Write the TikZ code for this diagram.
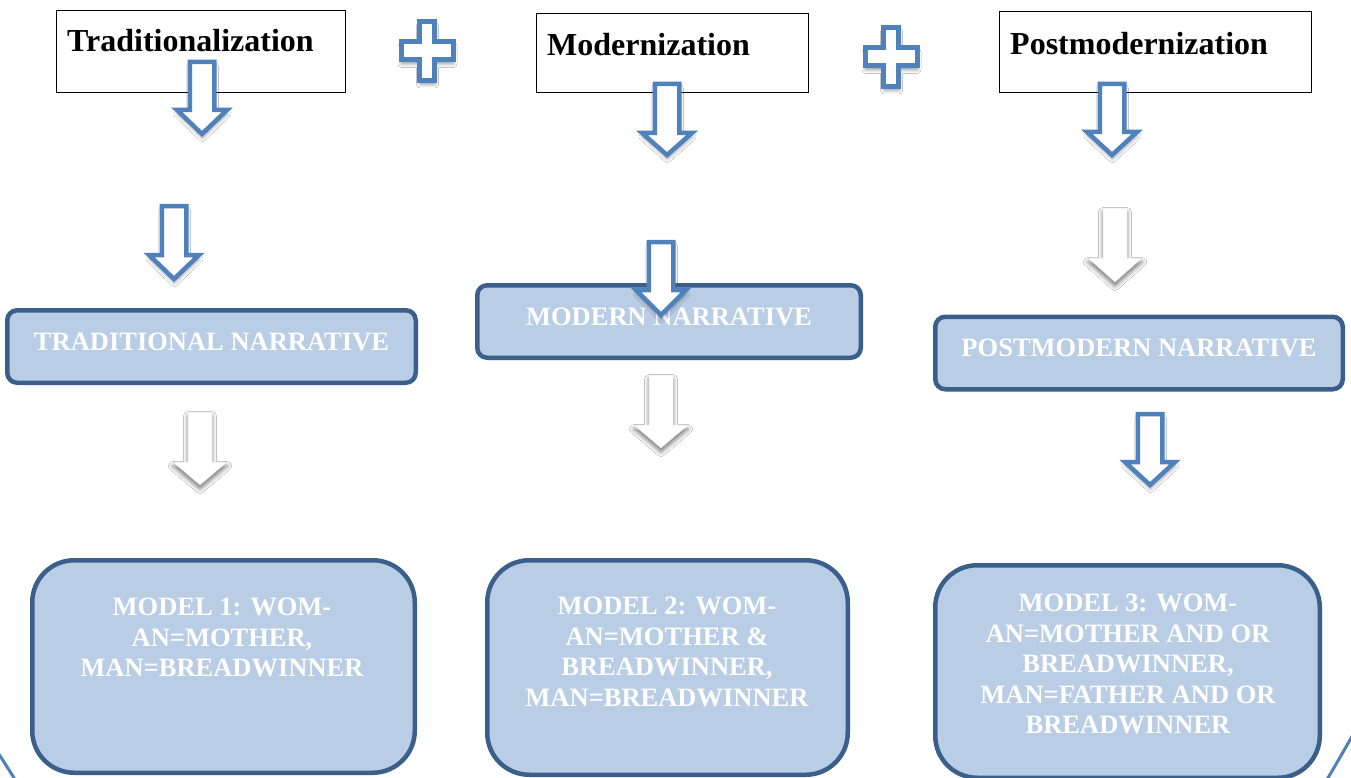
\documentclass[tikz,border=0pt]{standalone}
\usepackage{fontspec}
\setmainfont{Liberation Serif}
\usetikzlibrary{shadows.blur}
\definecolor{accblue}{HTML}{4F81BD}
\definecolor{boxborder}{HTML}{3A5F8B}
\definecolor{boxfill}{HTML}{B9CDE5}

% block arrow: #1 style, #2 centre x, #3 top y, #4 head y, #5 tip y, #6 shaft half, #7 head half
\newcommand{\BlkArrow}[7]{%
  \path[#1] (#2-#6,#3) -- (#2+#6,#3) -- (#2+#6,#4) -- (#2+#7,#4) -- (#2,#5)
    -- (#2-#7,#4) -- (#2-#6,#4) -- cycle;}
% plus sign: #1 centre x, #2 centre y
\newcommand{\PlusSign}[2]{%
  \path[plussign] (#1-7.5,#2-29.5) -- (#1+7.5,#2-29.5) -- (#1+7.5,#2-9) -- (#1+26,#2-9)
    -- (#1+26,#2+9) -- (#1+7.5,#2+9) -- (#1+7.5,#2+29.5) -- (#1-7.5,#2+29.5)
    -- (#1-7.5,#2+9) -- (#1-26,#2+9) -- (#1-26,#2-9) -- (#1-7.5,#2-9) -- cycle;}

\tikzset{
  topbox/.style={draw=black, line width=1pt, fill=white, inner sep=0pt},
  toptext/.style={font=\fontsize{32}{36}\selectfont\bfseries, inner sep=0pt, anchor=base west},
  narrbox/.style={draw=boxborder, line width=4.5pt, fill=boxfill, rounded corners=10pt,
    inner sep=0pt, minimum height=72.5pt, text height=17pt, text depth=10pt,
    font=\fontsize{26.5}{30.5}\selectfont\bfseries, text=white},
  modelbox/.style={draw=boxborder, line width=4.5pt, fill=boxfill, rounded corners=42pt, inner sep=0pt},
  modeltext/.style={font=\fontsize{26.5}{30.5}\selectfont\bfseries, text=white, align=center,
    inner sep=0pt, anchor=north},
  bluearrow/.style={draw=accblue, line width=4.5pt, fill=white, line join=miter,
    blur shadow={shadow xshift=0.5pt, shadow yshift=-4pt, shadow blur radius=3.5pt, shadow opacity=35}},
  grayarrow/.style={fill=white, draw=black!10, line width=0.5pt,
    blur shadow={shadow xshift=0pt, shadow yshift=-4pt, shadow blur radius=4.5pt, shadow opacity=55}},
  plussign/.style={draw=accblue, line width=5pt, fill=white, line join=miter,
    blur shadow={shadow xshift=0.5pt, shadow yshift=-4pt, shadow blur radius=3.5pt, shadow opacity=40}},
  framearc/.style={draw=accblue, line width=3pt},
}

\begin{document}
\begin{tikzpicture}[x=1pt, y=-1pt]
\useasboundingbox (0,0) rectangle (1351,778);
\clip (0,0) rectangle (1351,778);
\fill[white] (0,0) rectangle (1351,778);

% background frame fragments
\draw[framearc] (-4,750) .. controls (3,760) and (9,770) .. (16,781);
\draw[framearc] (1326,781) .. controls (1334,768) and (1343,752) .. (1354,733);

% top boxes
\node[topbox, minimum width=289pt, minimum height=82pt] (tradbox) at (200.5,52) {};
\node[topbox, minimum width=272pt, minimum height=79pt] (modbox) at (672,53.5) {};
\node[topbox, minimum width=312pt, minimum height=81pt] (postbox) at (1155,52.5) {};
\node[toptext] (tradtxt) at (67,52) {Traditionalization};
\node[toptext] (modtxt) at (547,56) {Modernization};
\node[toptext] (posttxt) at (1010,55) {Postmodernization};

% plus signs
\PlusSign{427}{51}
\PlusSign{891}{57}

% narrative boxes
\node[narrbox, minimum width=408.5pt] (tradn) at (211.5,346.5) {TRADITIONAL NARRATIVE};
\node[narrbox, minimum width=383.5pt] (modn) at (669,321.5) {MODERN NARRATIVE};
\node[narrbox, minimum width=407.5pt] (postn) at (1139,353) {POSTMODERN NARRATIVE};

% model boxes
\node[modelbox, minimum width=382.5pt, minimum height=212.5pt] (m1) at (223.5,666.5) {};
\node[modelbox, minimum width=360.5pt, minimum height=214.5pt] (m2) at (667.5,667.5) {};
\node[modelbox, minimum width=384.5pt, minimum height=212.5pt] (m3) at (1127.5,671.5) {};
\node[modeltext] (m1t) at (222,598) {MODEL 1: WOM-\\AN=MOTHER,\\MAN=BREADWINNER};
\node[modeltext] (m2t) at (667,597) {MODEL 2: WOM-\\AN=MOTHER \&\\BREADWINNER,\\MAN=BREADWINNER};
\node[modeltext] (m3t) at (1128,594) {MODEL 3: WOM-\\AN=MOTHER AND OR\\BREADWINNER,\\MAN=FATHER AND OR\\BREADWINNER};

% blue block arrows
\BlkArrow{bluearrow}{202}{62}{110}{134}{12.25}{25}
\BlkArrow{bluearrow}{667}{84}{133}{155}{12.25}{25}
\BlkArrow{bluearrow}{1112}{84}{132}{155}{12.25}{25}
\BlkArrow{bluearrow}{174}{206}{255}{279}{12.25}{25}
\BlkArrow{bluearrow}{661}{242}{290}{315}{12.25}{25}
\BlkArrow{bluearrow}{1150}{414}{462}{485}{12.25}{25}

% white (grey-shadowed) block arrows
\BlkArrow{grayarrow}{1115}{208}{258}{282}{12}{27}
\BlkArrow{grayarrow}{200}{412}{462}{485}{12}{27}
\BlkArrow{grayarrow}{661}{375}{425}{448}{12}{27}
\end{tikzpicture}
\end{document}
